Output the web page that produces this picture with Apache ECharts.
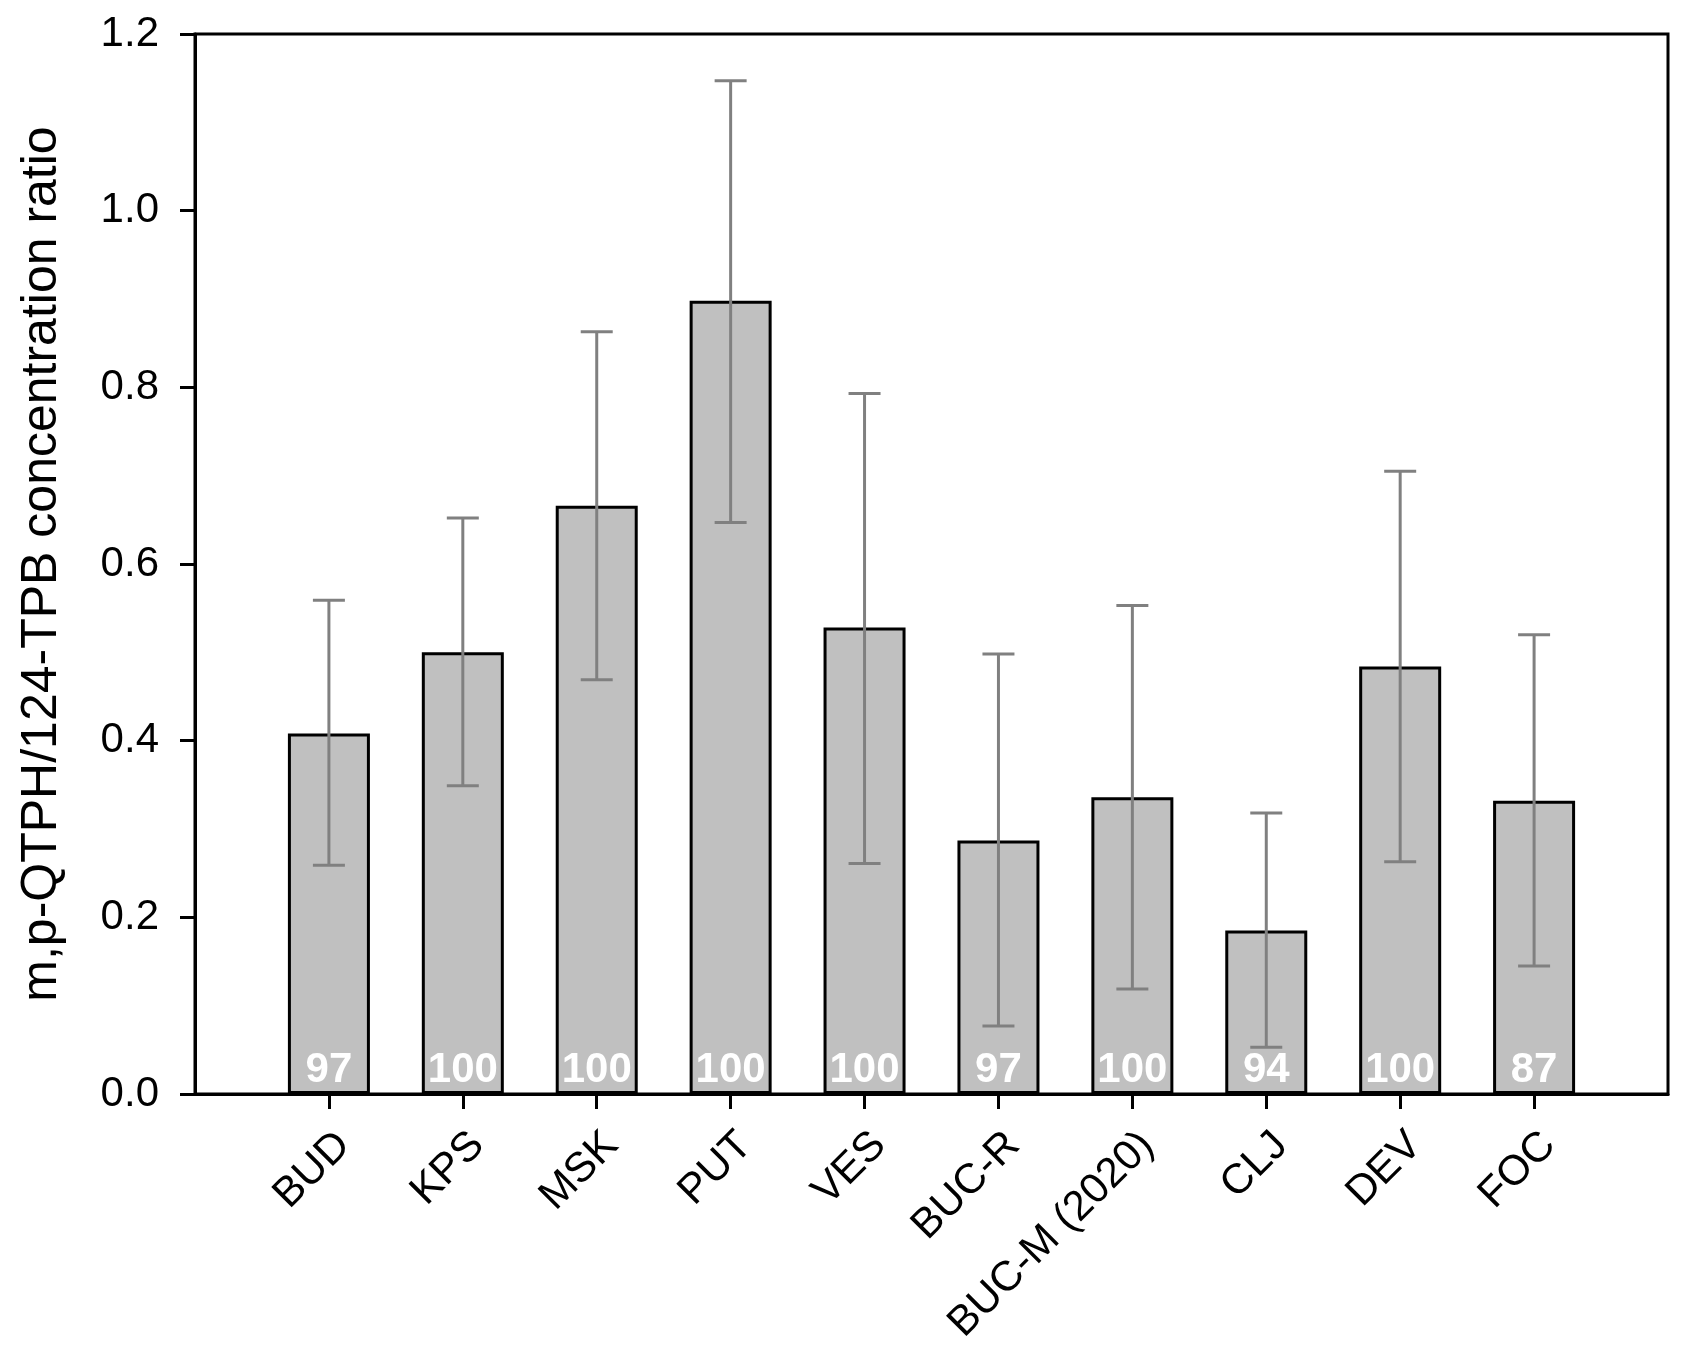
<!DOCTYPE html>
<html>
<head>
<meta charset="utf-8">
<script src="https://cdn.jsdelivr.net/npm/echarts@6/dist/echarts.min.js"></script>
<style>
html,body{margin:0;padding:0;background:#fff;}
#chart{width:1690px;height:1350px;}
</style>
</head>
<body>
<div id="chart"></div>
<script>
const categories = ['BUD','KPS','MSK','PUT','VES','BUC-R','BUC-M (2020)','CLJ','DEV','FOC'];
const ratioMeans = [0.408, 0.500, 0.666, 0.898, 0.528, 0.287, 0.336, 0.185, 0.484, 0.332];
const errorLow   = [0.259, 0.349, 0.469, 0.647, 0.261, 0.077, 0.119, 0.053, 0.263, 0.145];
const errorHigh  = [0.559, 0.652, 0.863, 1.147, 0.793, 0.498, 0.553, 0.318, 0.705, 0.520];
const countLabels = ['97','100','100','100','100','97','100','94','100','87'];
const yTicks = [0, 0.2, 0.4, 0.6, 0.8, 1.0, 1.2];

const axisCats = [''].concat(categories, ['']);
const FONT = '"Liberation Sans", Arial, sans-serif';

const barData = ratioMeans.map((v, i) => [i + 1, v]);
const errData = ratioMeans.map((v, i) => [i + 1, errorLow[i], errorHigh[i]]);

const chart = echarts.init(document.getElementById('chart'), null, {renderer: 'canvas'});
chart.setOption({
  animation: false,
  backgroundColor: '#fff',
  grid: {
    left: 195, right: 22, top: 34, bottom: 256,
    show: true, borderColor: '#000', borderWidth: 3, backgroundColor: 'transparent'
  },
  xAxis: {
    type: 'category',
    data: axisCats,
    boundaryGap: false,
    axisLine: {show: true, lineStyle: {color: '#000', width: 3}},
    axisTick: {
      show: true, length: 15, inside: false,
      lineStyle: {color: '#000', width: 3},
      interval: (idx, val) => val !== ''
    },
    axisLabel: {
      interval: 0, rotate: 45, margin: 30,
      verticalAlign: 'top',
      color: '#000', fontFamily: FONT, fontSize: 42
    },
    splitLine: {show: false}
  },
  yAxis: {
    type: 'value',
    min: yTicks[0], max: yTicks[yTicks.length - 1], interval: 0.2,
    name: 'm,p-QTPH/124-TPB concentration ratio',
    nameLocation: 'middle', nameGap: 128,
    nameTextStyle: {color: '#000', fontFamily: FONT, fontSize: 50},
    axisLine: {show: true, lineStyle: {color: '#000', width: 3}},
    axisTick: {show: true, length: 15, inside: false, lineStyle: {color: '#000', width: 3}},
    axisLabel: {
      margin: 36, color: '#000', fontFamily: FONT, fontSize: 42,
      formatter: v => v.toFixed(1)
    },
    splitLine: {show: false}
  },
  series: [
    {
      type: 'bar',
      data: barData,
      barWidth: 82,
      itemStyle: {color: '#c0c0c0', borderColor: '#000', borderWidth: 3},
      label: {
        show: true, position: 'insideBottom', distance: 3,
        color: '#fff', fontFamily: FONT, fontWeight: 'bold', fontSize: 42,
        formatter: p => countLabels[p.dataIndex]
      },
      z: 2
    },
    {
      type: 'custom',
      data: errData,
      z: 5,
      renderItem: function (params, api) {
        const x = api.value(0);
        const lo = api.coord([x, api.value(1)]);
        const hi = api.coord([x, api.value(2)]);
        const half = 16;
        const style = {stroke: '#808080', lineWidth: 3};
        return {
          type: 'group',
          children: [
            {type: 'line', shape: {x1: lo[0], y1: lo[1], x2: hi[0], y2: hi[1]}, style: style},
            {type: 'line', shape: {x1: hi[0] - half, y1: hi[1], x2: hi[0] + half, y2: hi[1]}, style: style},
            {type: 'line', shape: {x1: lo[0] - half, y1: lo[1], x2: lo[0] + half, y2: lo[1]}, style: style}
          ]
        };
      }
    }
  ]
});
</script>
</body>
</html>
